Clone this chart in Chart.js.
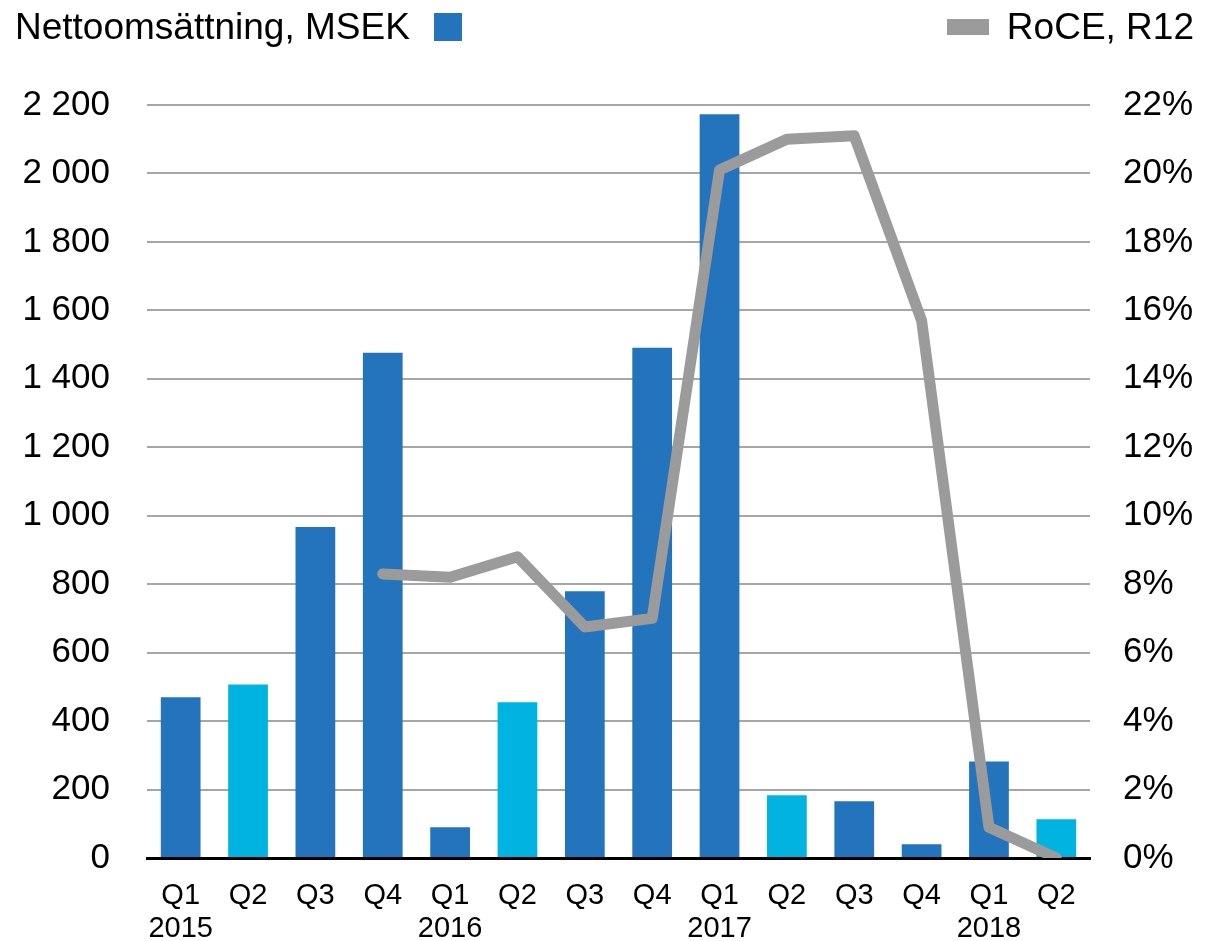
<!DOCTYPE html>
<html>
<head>
<meta charset="utf-8">
<script src="https://cdn.jsdelivr.net/npm/chart.js@4/dist/chart.umd.min.js"></script>
<style>
  html, body { margin: 0; padding: 0; background: #ffffff; }
  #wrap { position: relative; width: 1205px; height: 941px; }
</style>
</head>
<body>
<div id="wrap"><canvas id="c"></canvas></div>
<script>
// ---- data ----
const quarters = ["Q1","Q2","Q3","Q4","Q1","Q2","Q3","Q4","Q1","Q2","Q3","Q4","Q1","Q2"];
const years    = ["2015","","","","2016","","","","2017","","","","2018",""];
const netSales = [470, 507, 967, 1476, 90, 455, 779, 1491, 2173, 183, 166, 40, 282, 113];
const roce     = [null, null, null, 8.3, 8.2, 8.8, 6.75, 7.0, 20.1, 21.0, 21.1, 15.7, 0.9, 0.0];
const leftTicks  = [0, 200, 400, 600, 800, 1000, 1200, 1400, 1600, 1800, 2000, 2200];
const rightTicks = [0, 2, 4, 6, 8, 10, 12, 14, 16, 18, 20, 22];
const salesLabel = "Nettoomsättning, MSEK";
const roceLabel  = "RoCE, R12";

const DARK = "#2373BD";
const CYAN = "#00B3E0";
const GREY = "#9B9B9B";
const FONT = "'Liberation Sans', Arial, sans-serif";

const labels = quarters.map((q, i) => years[i] ? [q, years[i]] : [q, ""]);
const barColors = quarters.map(q => q === "Q2" ? CYAN : DARK);
const fmtSpace = v => String(v).replace(/\B(?=(\d{3})+(?!\d))/g, " ");

const legendPlugin = {
  id: "topLegend",
  afterDraw(chart) {
    const ctx = chart.ctx;
    ctx.save();
    ctx.font = "37px " + FONT;
    ctx.fillStyle = "#000";
    ctx.textBaseline = "middle";
    ctx.textAlign = "left";
    ctx.fillText(salesLabel, 15, 29);
    ctx.fillStyle = DARK;
    ctx.fillRect(434, 13, 28, 28);
    ctx.fillStyle = "#000";
    ctx.textAlign = "right";
    ctx.fillText(roceLabel, 1194, 29);
    ctx.fillStyle = GREY;
    ctx.fillRect(947, 19, 42, 16);
    ctx.restore();
  }
};

new Chart(document.getElementById("c"), {
  data: {
    labels: labels,
    datasets: [
      {
        type: "line",
        label: roceLabel,
        data: roce,
        yAxisID: "yR",
        borderColor: GREY,
        backgroundColor: GREY,
        borderWidth: 11,
        pointRadius: 0,
        borderJoinStyle: "round",
        borderCapStyle: "round",
        tension: 0,
        spanGaps: false,
        order: 0
      },
      {
        type: "bar",
        label: salesLabel,
        data: netSales,
        yAxisID: "yL",
        backgroundColor: barColors,
        borderWidth: 0,
        categoryPercentage: 1.0,
        barPercentage: 0.59,
        order: 1
      }
    ]
  },
  options: {
    responsive: true,
    maintainAspectRatio: false,
    animation: false,
    devicePixelRatio: 1,
    layout: { padding: { top: 105, left: 0, right: 0, bottom: 0 } },
    plugins: { legend: { display: false }, tooltip: { enabled: false } },
    scales: {
      x: {
        grid: { display: false, drawTicks: false },
        border: { display: true, color: "#000", width: 3 },
        ticks: {
          color: "#000",
          font: { family: FONT, size: 29, lineHeight: 1.14 },
          padding: 21,
          maxRotation: 0,
          autoSkip: false
        },
        afterFit(scale) { scale.height = 83; }
      },
      yL: {
        position: "left",
        min: 0, max: 2200,
        afterBuildTicks(scale) { scale.ticks = leftTicks.map(v => ({ value: v })); },
        grid: {
          drawTicks: false,
          lineWidth: 2,
          color: ctx => (ctx.tick && ctx.tick.value === 0) ? "rgba(0,0,0,0)" : "#A6A6A6"
        },
        border: { display: false },
        ticks: {
          color: "#000",
          font: { family: FONT, size: 35 },
          padding: 37,
          callback: v => fmtSpace(v)
        },
        afterFit(scale) { scale.width = 147; }
      },
      yR: {
        position: "right",
        min: 0, max: 22,
        afterBuildTicks(scale) { scale.ticks = rightTicks.map(v => ({ value: v })); },
        grid: { display: false, drawTicks: false },
        border: { display: false },
        ticks: {
          color: "#000",
          font: { family: FONT, size: 35 },
          padding: 33,
          callback: v => v + "%"
        },
        afterFit(scale) { scale.width = 115; }
      }
    }
  },
  plugins: [legendPlugin]
});
</script>
</body>
</html>
